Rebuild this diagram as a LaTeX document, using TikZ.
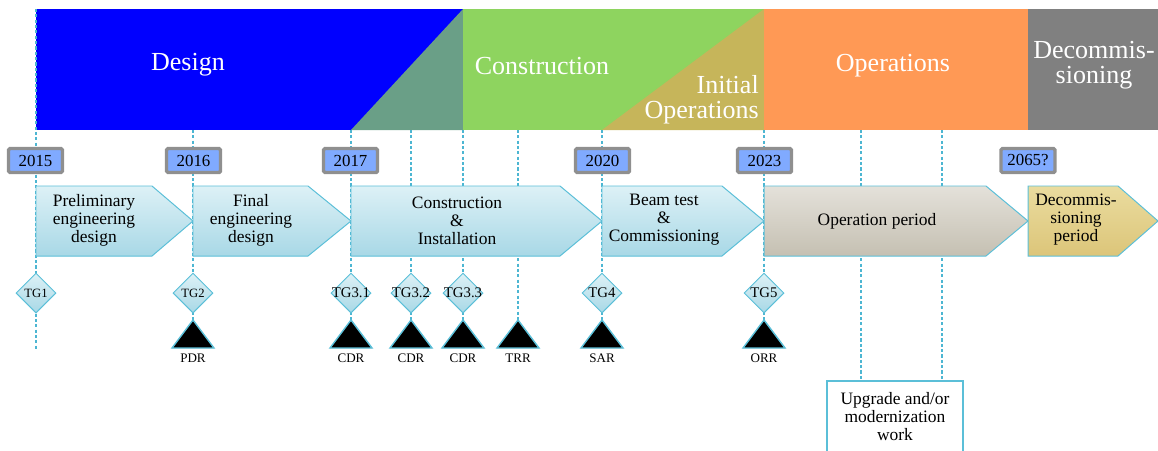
\documentclass[tikz,border=0pt]{standalone}
\usepackage{fontspec}
\setmainfont{Liberation Serif}
\usetikzlibrary{shapes.geometric,positioning}

\definecolor{DesignBlue}{HTML}{0000FF}
\definecolor{DesignMix}{HTML}{6A9F87}
\definecolor{BuildGreen}{HTML}{8ED45F}
\definecolor{InitOlive}{HTML}{C6B55A}
\definecolor{OpsOrange}{HTML}{FF9955}
\definecolor{DecomGray}{HTML}{808080}
\definecolor{YearFill}{HTML}{80AAFF}
\definecolor{YearRim}{HTML}{8F8F8F}
\definecolor{Rim}{HTML}{5BBFD8}
\definecolor{Guide}{HTML}{4DB6D2}
\definecolor{PhaseTop}{HTML}{DDF1F6}
\definecolor{PhaseBot}{HTML}{A8D8E6}
\definecolor{OpsTop}{HTML}{E4E1DA}
\definecolor{OpsBot}{HTML}{C5C0B2}
\definecolor{DecTop}{HTML}{EADC9F}
\definecolor{DecBot}{HTML}{DCC579}

\begin{document}
\begin{tikzpicture}[x=0.025cm,y=-0.025cm]
			\tikzstyle{Band}	= [text=white, font=\fontsize{18.5}{17.5}\selectfont, align=center, inner sep=0pt]
			\tikzstyle{GuideLine}	= [Guide, line width=1pt, dash pattern=on 2.2pt off 1.6pt]
			\tikzstyle{Year}	= [draw=YearRim, line width=2.4pt, fill=YearFill, rounded corners=1pt, minimum width=1.35cm, minimum height=0.6cm, inner sep=0pt, font=\fontsize{12}{12}\selectfont]
			\tikzstyle{Phase}	= [draw=Rim, line width=0.7pt, top color=PhaseTop, bottom color=PhaseBot]
			\tikzstyle{OpsPhase}	= [draw=Rim, line width=0.7pt, top color=OpsTop, bottom color=OpsBot]
			\tikzstyle{DecPhase}	= [draw=Rim, line width=0.7pt, top color=DecTop, bottom color=DecBot]
			\tikzstyle{PhaseText}	= [align=center, inner sep=0pt, font=\fontsize{12.4}{12.8}\selectfont]
			\tikzstyle{Gate}	= [diamond, draw=Rim, line width=0.7pt, top color=PhaseTop, bottom color=PhaseBot, minimum width=1cm, minimum height=1cm, inner sep=-4pt]
			\tikzstyle{SmallGate}	= [font=\fontsize{9}{9}\selectfont]
			\tikzstyle{BigGate}	= [font=\fontsize{10.5}{10.5}\selectfont]
			\tikzstyle{Review}	= [draw=Rim, line width=1pt, fill=black, line join=miter]
			\tikzstyle{ReviewText}	= [inner sep=0pt, font=\fontsize{9.3}{9.3}\selectfont]

			\useasboundingbox (0,0) rectangle (1158,450);

			% phase band
			\fill[DesignBlue] (36,9) rectangle (463,130);
			\fill[DesignMix] (351,130) -- (463,9) -- (463,130) -- cycle;
			\fill[BuildGreen] (463,9) rectangle (764,130);
			\fill[InitOlive] (602,130) -- (764,9) -- (764,130) -- cycle;
			\fill[OpsOrange] (764,9) rectangle (1028,130);
			\fill[DecomGray] (1028,9) rectangle (1158,130);

			\node (design) at (188,65) [Band] {Design};
			\node (build) at (542,66) [Band] {Construction};
			\node (initops) at (759,100) [Band, align=right, anchor=east] {Initial\\Operations};
			\node (ops) at (893,66) [Band] {Operations};
			\node (decom) at (1094,65) [Band] {Decommis-\\sioning};

			% guide lines
			\coordinate (t0) at (36,9);
			\coordinate (b0) at (36,350);
			\draw[GuideLine] (t0) -- (b0);
			\foreach \x/\y [count=\i] in {193/320, 351/320, 411/320, 463/320, 518/320, 602/320, 764/320, 861/381, 942/381} {
				\coordinate (t\i) at (\x,130);
				\coordinate (b\i) at (\x,\y);
				\draw[GuideLine] (t\i) -- (b\i);
			}

			% years
			\node (y2015) at (35.5,160.5) [Year] {2015};
			\node (y2016) at (193.5,160.5) [Year] {2016};
			\node (y2017) at (350.5,160.5) [Year] {2017};
			\node (y2020) at (602.5,160.5) [Year] {2020};
			\node (y2023) at (764.5,160.5) [Year] {2023};
			\node (y2065) at (1028,160.5) [Year] {2065?};

			% phases
			\draw[Phase] (36,186) -- (152,186) -- (193,221) -- (152,256) -- (36,256) -- cycle;
			\draw[Phase] (193,186) -- (308,186) -- (351,221) -- (308,256) -- (193,256) -- cycle;
			\draw[Phase] (351,186) -- (560,186) -- (602,221) -- (560,256) -- (351,256) -- cycle;
			\draw[Phase] (602,186) -- (722,186) -- (764,221) -- (722,256) -- (602,256) -- cycle;
			\draw[OpsPhase] (764,186) -- (986,186) -- (1028,221) -- (986,256) -- (764,256) -- cycle;
			\draw[DecPhase] (1028,186) -- (1118,186) -- (1158,221) -- (1118,256) -- (1028,256) -- cycle;

			\node (prelim) at (94,220) [PhaseText] {Preliminary\\engineering\\design};
			\node (final) at (251,220) [PhaseText] {Final\\engineering\\design};
			\node (install) at (457,221) [PhaseText] {Construction\\\&\\Installation};
			\node (beam) at (664,220) [PhaseText] {Beam test\\\&\\Commissioning};
			\node (operate) at (877,221) [PhaseText] {Operation period};
			\node (retire) at (1076,220) [PhaseText] {Decommis-\\sioning\\period};

			% gates
			\foreach \x/\lab/\sz [count=\i] in {36/TG1/SmallGate, 193/TG2/SmallGate, 351/TG3.1/BigGate, 411/TG3.2/BigGate, 463/TG3.3/BigGate, 602/TG4/BigGate, 764/TG5/BigGate}
				\node (g\i) at (\x,293) [Gate, \sz] {\lab};

			% reviews
			\foreach \x/\lab [count=\i] in {193/PDR, 351/CDR, 411/CDR, 463/CDR, 518/TRR, 602/SAR, 764/ORR} {
				\draw[Review] (\x-21,348) -- (\x,320) -- (\x+21,348) -- cycle;
				\node (r\i) at (\x,358) [ReviewText] {\lab};
			}

			% upgrade work
			\draw[Rim, line width=1pt] (827,452) |- (963,381) -- (963,452);
			\node (upgrade) at (895,417) [PhaseText] {Upgrade and/or\\modernization\\work};
\end{tikzpicture}
\end{document}
